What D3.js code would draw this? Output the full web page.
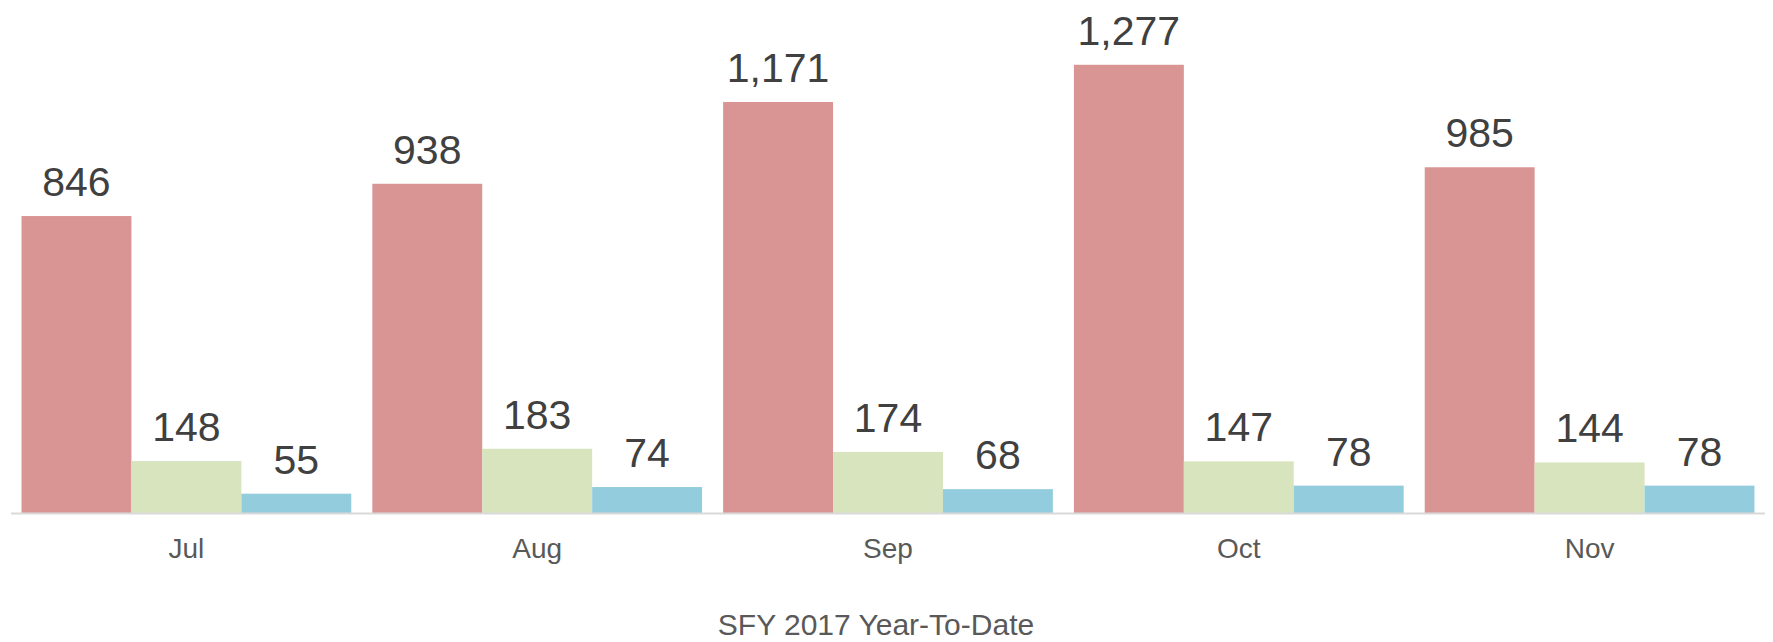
<!DOCTYPE html>
<html>
<head>
<meta charset="utf-8">
<script src="https://cdn.jsdelivr.net/npm/d3@7"></script>
<style>
  html, body { margin: 0; padding: 0; background: #fff; }
  svg { display: block; font-family: "Liberation Sans", Arial, sans-serif; }
</style>
</head>
<body>
<svg id="chart" width="1773" height="642"></svg>
<script>
// Data
const months = ['Jul', 'Aug', 'Sep', 'Oct', 'Nov'];
const seriesNames = ['s1', 's2', 's3'];
const s1 = [846, 938, 1171, 1277, 985];
const s2 = [148, 183, 174, 147, 144];
const s3 = [55, 74, 68, 78, 78];
const xTitle = 'SFY 2017 Year-To-Date';

const colors = ['#d99594', '#d7e4bd', '#93cddd'];

const svg = d3.select('svg#chart');
const baseY = 513;

// Scales
const x0 = d3.scaleBand()
  .domain(months)
  .range([11, 1765])
  .paddingInner(0.06)
  .paddingOuter(0.03);

const x1 = d3.scaleBand()
  .domain(seriesNames)
  .range([0, x0.bandwidth()]);

const y = d3.scaleLinear()
  .domain([0, 1400])
  .range([baseY, baseY - 1400 * 0.351]);

const rows = months.map((m, i) => ({
  month: m,
  vals: [s1[i], s2[i], s3[i]].map((v, j) => ({key: seriesNames[j], value: v, color: colors[j]}))
}));

const fmt = d3.format(',');

const groups = svg.append('g')
  .selectAll('g')
  .data(rows)
  .join('g')
  .attr('transform', d => `translate(${x0(d.month)},0)`);

groups.selectAll('rect')
  .data(d => d.vals)
  .join('rect')
  .attr('x', d => x1(d.key))
  .attr('y', d => y(d.value))
  .attr('width', x1.bandwidth())
  .attr('height', d => y(0) - y(d.value))
  .attr('fill', d => d.color);

groups.selectAll('text')
  .data(d => d.vals)
  .join('text')
  .attr('x', d => x1(d.key) + x1.bandwidth() / 2)
  .attr('y', d => y(d.value) - 20)
  .attr('text-anchor', 'middle')
  .attr('font-size', 41)
  .attr('fill', '#404040')
  .text(d => fmt(d.value));

// Axis
const xAxis = svg.append('g')
  .attr('transform', `translate(0,${baseY})`)
  .call(d3.axisBottom(x0).tickSize(0).tickPadding(0));

xAxis.select('.domain')
  .attr('stroke', '#d9d9d9')
  .attr('stroke-width', 2)
  .attr('d', 'M11,0.5H1765');

xAxis.selectAll('.tick text')
  .attr('dy', null)
  .attr('y', 45)
  .attr('font-size', 28)
  .attr('font-family', '"Liberation Sans", Arial, sans-serif')
  .attr('fill', '#595959');

svg.append('text')
  .attr('x', 876)
  .attr('y', 635)
  .attr('text-anchor', 'middle')
  .attr('font-size', 30)
  .attr('fill', '#595959')
  .text(xTitle);
</script>
</body>
</html>
